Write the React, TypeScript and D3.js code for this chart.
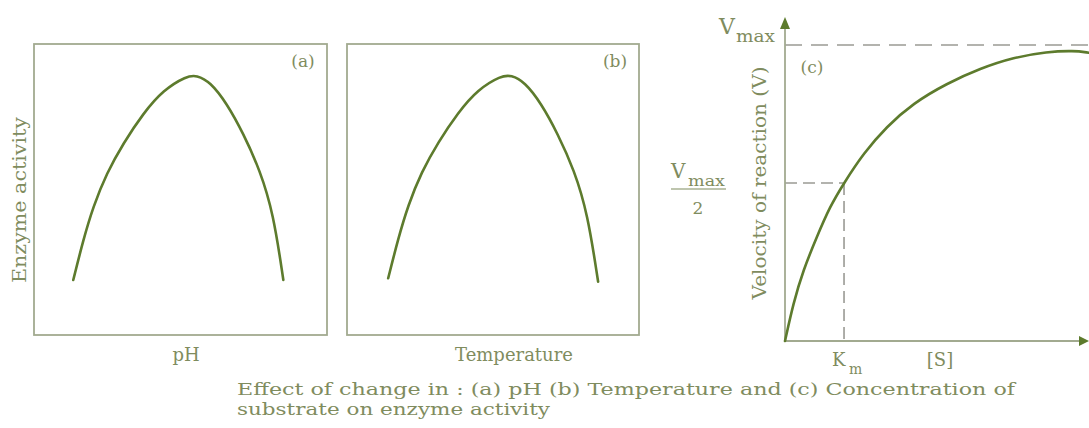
import React from "react";
import * as d3 from "d3";

// (a) enzyme activity vs pH (arbitrary 0-10 units)
const phX = [1.34, 1.68, 2.02, 2.48, 3.05, 3.73, 4.41, 5.21, 5.55, 6.01, 6.58, 7.14, 7.71, 8.17, 8.51];
const phY = [1.89, 3.26, 4.41, 5.56, 6.59, 7.62, 8.42, 8.9, 8.93, 8.7, 7.96, 6.93, 5.67, 4.18, 1.89];

// (b) enzyme activity vs temperature
const tempX = [1.41, 1.75, 2.09, 2.55, 3.12, 3.8, 4.48, 5.28, 5.62, 6.08, 6.65, 7.21, 7.78, 8.24, 8.6];
const tempY = [1.95, 3.3, 4.45, 5.6, 6.62, 7.64, 8.44, 8.91, 8.93, 8.7, 7.96, 6.93, 5.67, 4.18, 1.83];

// (c) velocity vs substrate concentration ([S] in Km units, V in Vmax units)
const subX = [0, 0.14, 0.31, 0.54, 0.76, 1.0, 1.33, 1.72, 2.17, 2.74, 3.31, 3.87, 4.44, 4.89, 5.15];
const subY = [0, 0.127, 0.24, 0.352, 0.454, 0.534, 0.634, 0.724, 0.803, 0.87, 0.921, 0.958, 0.977, 0.981, 0.974];
const kmValue = 1;
const halfValue = 0.534;
const vmaxValue = 1;

const captionLines = [
  "Effect of change in : (a) pH  (b) Temperature and (c) Concentration of",
  "substrate on enzyme activity",
];

const textColor = "#7f8c5e";
const curveColor = "#5d7b2d";
const boxColor = "#a2aa90";
const dashColor = "#9a9a94";
const font = "'DejaVu Serif', serif";

const W = 1089;
const H = 428;

function Panel({ xs, ys, left, right, tag, xLabel, xLabelX, yLabel }) {
  const x = d3.scaleLinear().domain([0, 10]).range([left, right]);
  const y = d3.scaleLinear().domain([0, 10]).range([335, 44]);
  const pts = xs.map((v, i) => [v, ys[i]]);
  const line = d3
    .line()
    .x((d) => x(d[0]))
    .y((d) => y(d[1]))
    .curve(d3.curveBasis);
  return (
    <g>
      <rect x={left} y={44} width={right - left} height={291} fill="none" stroke={boxColor} strokeWidth={1.8} />
      <path d={line(pts)} fill="none" stroke={curveColor} strokeWidth={2.6} strokeLinecap="round" />
      <text x={right - 24} y={67} textAnchor="middle" fontSize={17} fill={textColor}>{tag}</text>
      <text x={xLabelX} y={361} textAnchor="middle" fontSize={18} fill={textColor}>
        {xLabel}
      </text>
      {yLabel && (
        <text
          transform={`translate(26,200) rotate(-90)`}
          textAnchor="middle"
          fontSize={18}
          fill={textColor}
          textLength={166}
          lengthAdjust="spacingAndGlyphs"
        >
          {yLabel}
        </text>
      )}
    </g>
  );
}

export default function App() {
  const x = d3.scaleLinear().domain([0, 5.15]).range([785, 1089]);
  const y = d3.scaleLinear().domain([0, vmaxValue]).range([341, 45]);
  const pts = subX.map((v, i) => [v, subY[i]]);
  const line = d3
    .line()
    .x((d) => x(d[0]))
    .y((d) => y(d[1]))
    .curve(d3.curveBasis);

  return (
    <svg width={W} height={H} style={{ position: "absolute", left: 0, top: 0, background: "#fff" }} fontFamily={font}>
      <Panel xs={phX} ys={phY} left={34} right={327} tag="(a)" xLabel="pH" xLabelX={186} yLabel="Enzyme activity" />
      <Panel xs={tempX} ys={tempY} left={347} right={639} tag="(b)" xLabel="Temperature" xLabelX={514} yLabel={null} />

      {/* (c) */}
      <line x1={x(0)} x2={W} y1={y(vmaxValue)} y2={y(vmaxValue)} stroke={dashColor} strokeWidth={1.6} strokeDasharray="17 9" />
      <line x1={x(0)} x2={x(kmValue)} y1={y(halfValue)} y2={y(halfValue)} stroke={dashColor} strokeWidth={1.6} strokeDasharray="12 6" />
      <line x1={x(kmValue)} x2={x(kmValue)} y1={y(halfValue)} y2={y(0)} stroke={dashColor} strokeWidth={1.6} strokeDasharray="12 6" />
      <line x1={x(0)} x2={x(0)} y1={y(0)} y2={24} stroke={boxColor} strokeWidth={1.8} />
      <path d={`M${x(0)},17 L${x(0) - 5},29 L${x(0) + 5},29 Z`} fill={curveColor} />
      <line x1={x(0)} x2={W - 6} y1={y(0)} y2={y(0)} stroke={boxColor} strokeWidth={1.8} />
      <path d={`M${W},${y(0)} L${W - 10},${y(0) - 5} L${W - 10},${y(0) + 5} Z`} fill={curveColor} />
      <path d={line(pts)} fill="none" stroke={curveColor} strokeWidth={2.6} strokeLinecap="round" />

      <text x={719} y={34} fontSize={22} fill={textColor}>V</text>
      <text x={736} y={42} fontSize={16} fill={textColor} textLength={39} lengthAdjust="spacingAndGlyphs">max</text>
      <text x={671} y={178} fontSize={20} fill={textColor}>V</text>
      <text x={688} y={186} fontSize={15} fill={textColor} textLength={37} lengthAdjust="spacingAndGlyphs">max</text>
      <line x1={671} x2={726} y1={189} y2={189} stroke={textColor} strokeWidth={1.2} />
      <text x={698} y={214} textAnchor="middle" fontSize={17} fill={textColor}>2</text>
      <text x={812} y={73} textAnchor="middle" fontSize={17} fill={textColor}>(c)</text>
      <text
        transform="translate(766,183) rotate(-90)"
        textAnchor="middle"
        fontSize={18}
        fill={textColor}
        textLength={233}
        lengthAdjust="spacingAndGlyphs"
      >
        Velocity of reaction (V)
      </text>
      <text x={832} y={366} fontSize={18} fill={textColor}>K</text>
      <text x={849} y={374} fontSize={14} fill={textColor}>m</text>
      <text x={940} y={366} textAnchor="middle" fontSize={18} fill={textColor}>[S]</text>

      {captionLines.map((t, i) => (
        <text
          key={i}
          x={237}
          y={395 + i * 20}
          fontSize={17}
          fill={textColor}
          textLength={i === 0 ? 778 : 313}
          lengthAdjust="spacingAndGlyphs"
        >
          {t}
        </text>
      ))}
    </svg>
  );
}
